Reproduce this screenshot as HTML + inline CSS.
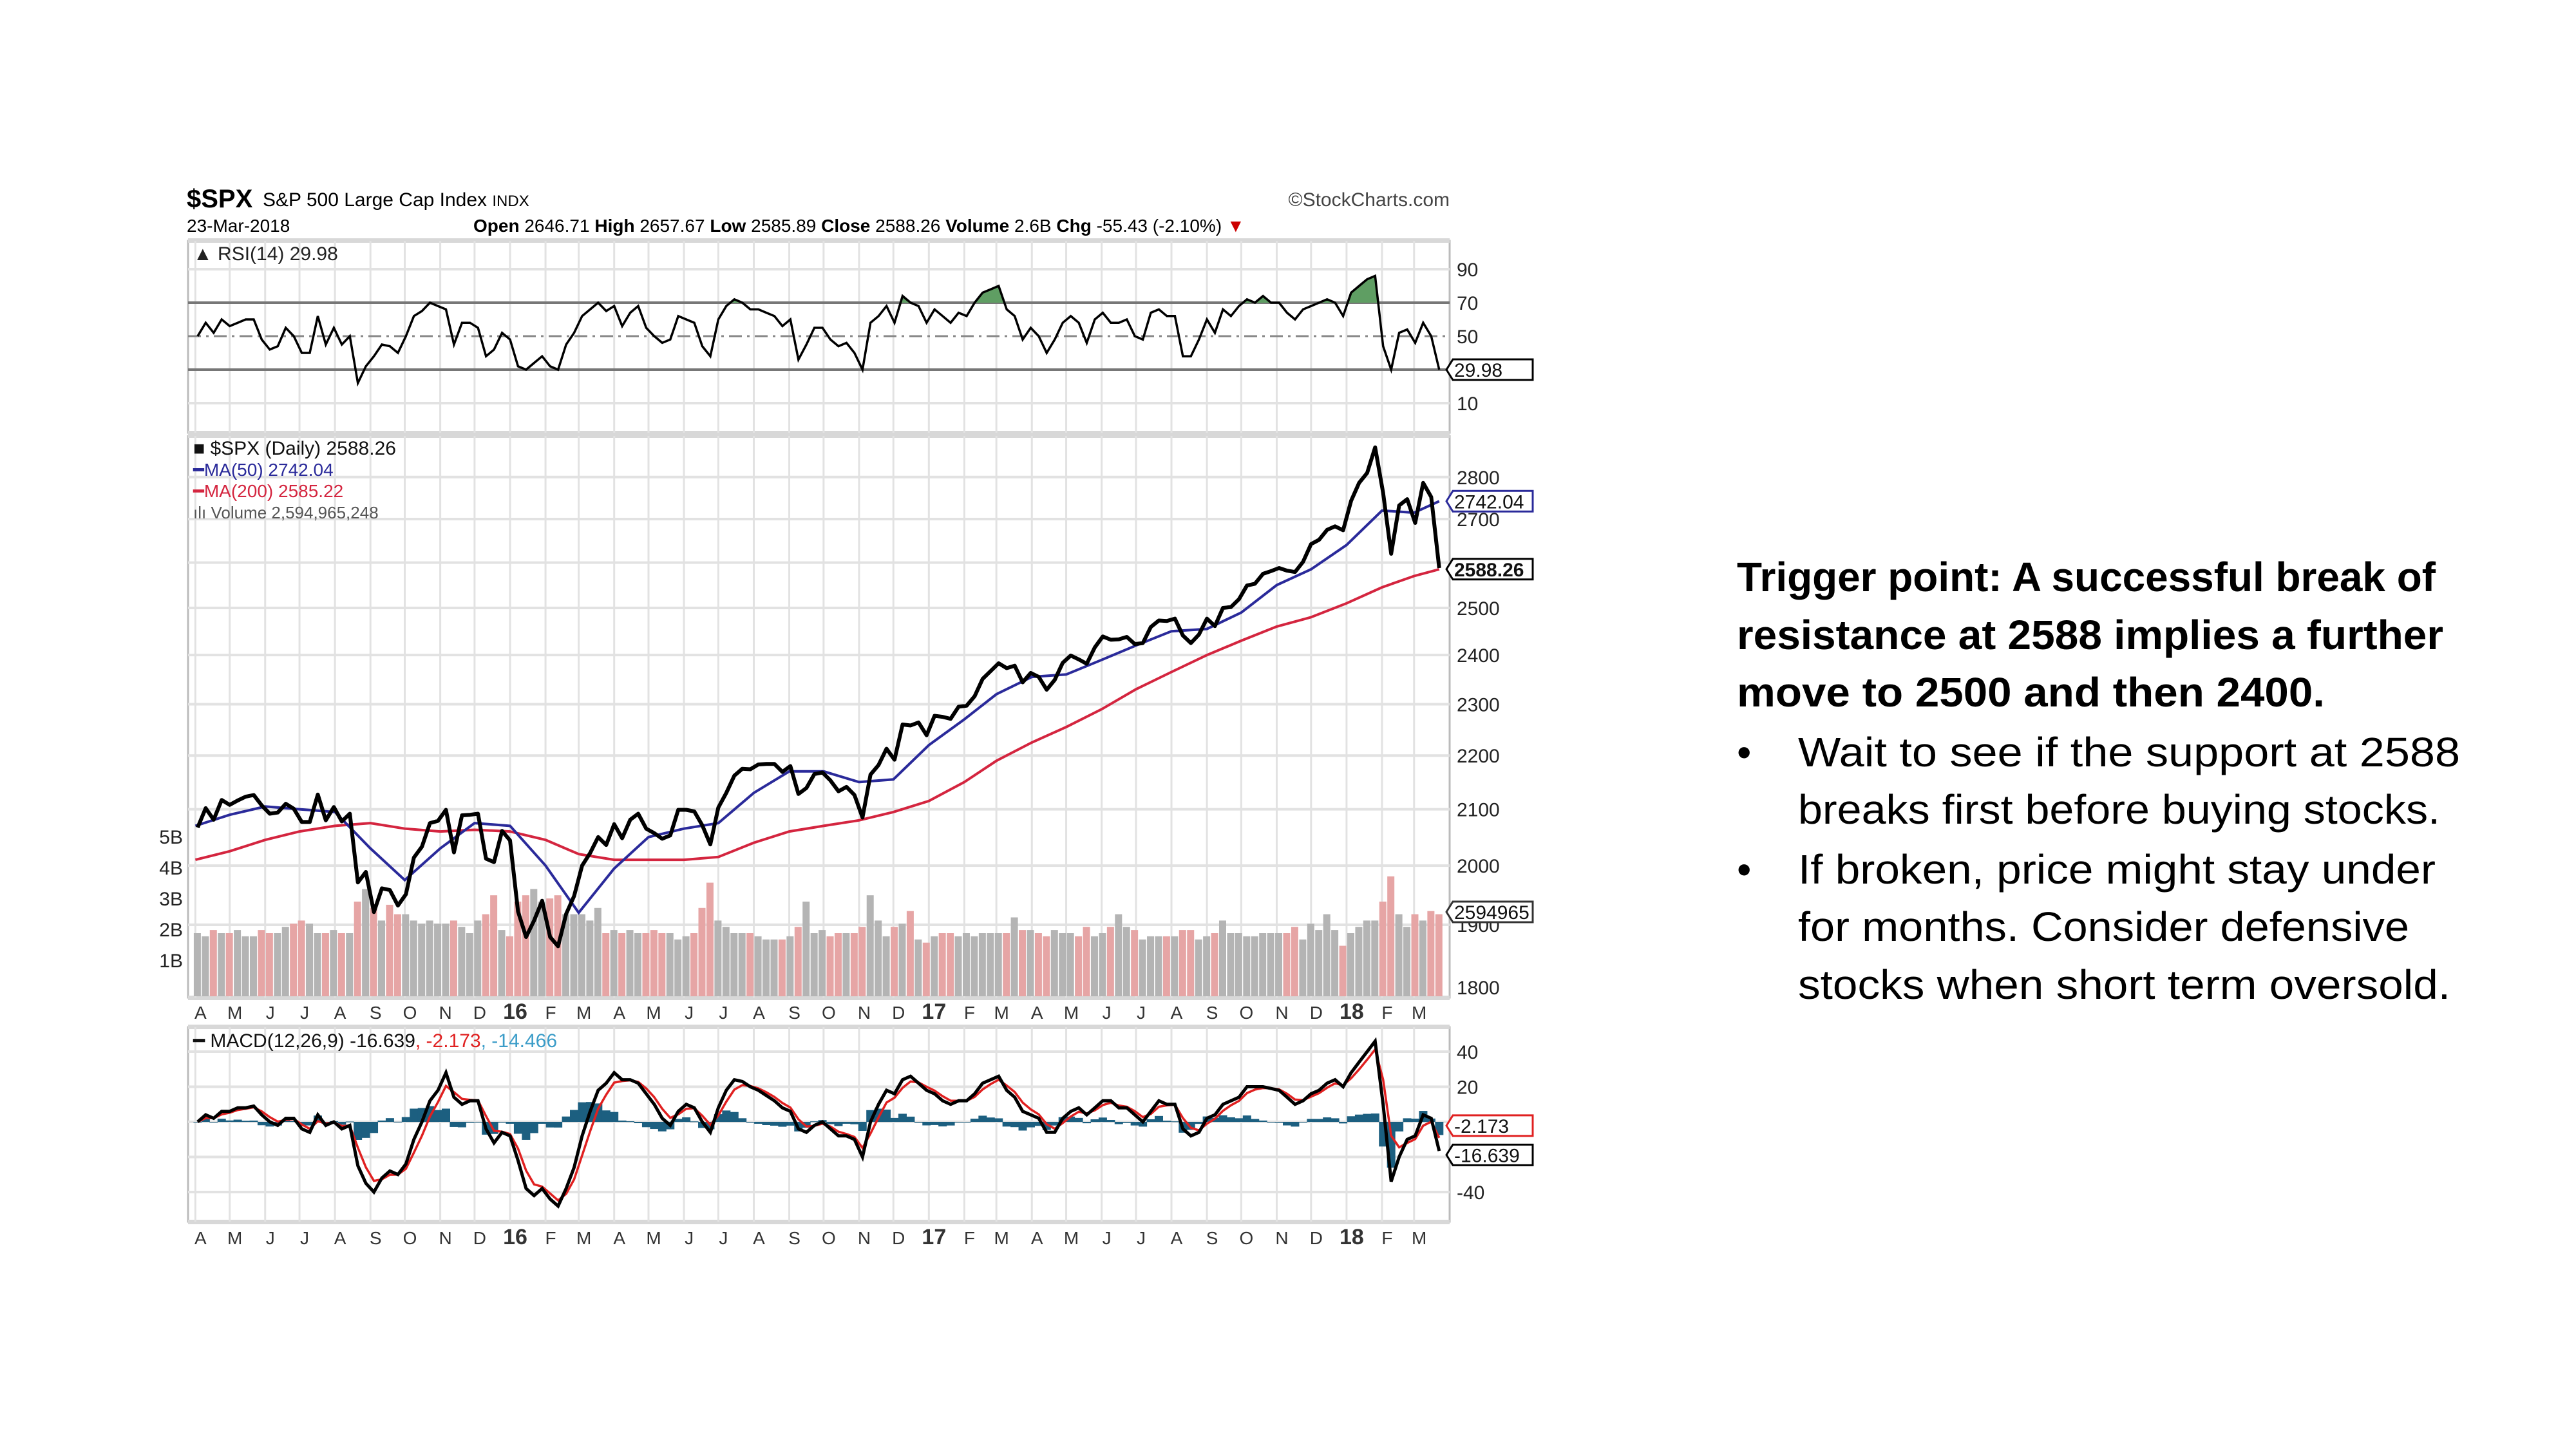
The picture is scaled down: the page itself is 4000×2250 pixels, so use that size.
<!DOCTYPE html>
<html><head><meta charset="utf-8"><title>SPX chart</title>
<style>
html,body{margin:0;padding:0;background:#fff;}
svg{display:block;font-family:"Liberation Sans",Arial,sans-serif;}
</style></head>
<body>
<svg id="chart" width="4000" height="2250" viewBox="0 0 4000 2250" xmlns="http://www.w3.org/2000/svg">
<rect x="0" y="0" width="4000" height="2250" fill="#fff"/>
<g id="grid"></g>
<g id="marks"></g>
<g id="labels"></g>

<g>
<text x="290" y="322" font-size="40" font-weight="bold" fill="#000">$SPX</text>
<text x="408" y="320" font-size="30" fill="#000">S&amp;P 500 Large Cap Index <tspan font-size="24">INDX</tspan></text>
<text x="2251" y="320" font-size="30" fill="#444" text-anchor="end">©StockCharts.com</text>
<text x="290" y="360" font-size="28" fill="#000">23-Mar-2018</text>
<text x="735" y="360" font-size="28" fill="#000"><tspan font-weight="bold">Open</tspan> 2646.71 <tspan font-weight="bold">High</tspan> 2657.67 <tspan font-weight="bold">Low</tspan> 2585.89 <tspan font-weight="bold">Close</tspan> 2588.26 <tspan font-weight="bold">Volume</tspan> 2.6B <tspan font-weight="bold">Chg</tspan> -55.43 (-2.10%) <tspan fill="#c00">▼</tspan></text>
</g>

<g font-size="64" fill="#000">
<text x="2697" y="918" font-weight="bold" textLength="1085" lengthAdjust="spacingAndGlyphs">Trigger point: A successful break of</text>
<text x="2697" y="1008" font-weight="bold" textLength="1097" lengthAdjust="spacingAndGlyphs">resistance at 2588 implies a further</text>
<text x="2697" y="1097" font-weight="bold" textLength="913" lengthAdjust="spacingAndGlyphs">move to 2500 and then 2400.</text>
<text x="2697" y="1190">•</text>
<text x="2792" y="1190" textLength="1028" lengthAdjust="spacingAndGlyphs">Wait to see if the support at 2588</text>
<text x="2792" y="1279" textLength="997" lengthAdjust="spacingAndGlyphs">breaks first before buying stocks.</text>
<text x="2697" y="1372">•</text>
<text x="2792" y="1372" textLength="990" lengthAdjust="spacingAndGlyphs">If broken, price might stay under</text>
<text x="2792" y="1461" textLength="949" lengthAdjust="spacingAndGlyphs">for months. Consider defensive</text>
<text x="2792" y="1551" textLength="1013" lengthAdjust="spacingAndGlyphs">stocks when short term oversold.</text>
</g>
</svg>
<script>
// ---- data (weekly, Fridays from 3-Apr-2015 to 23-Mar-2018) ----
const startDate = "2015-04-03";
const closes = [
2067,2102,2081,2117, 2108,2116,2123,2126,2107, 2092,2094,2110,2101, 2077,2077,2127,2080,2104, 2078,2092,1971,1989, 1921,1961,1958,1932, 1951,2014,2033,2075,2079, 2099,2023,2089,2090, 2092,2012,2006,2061,2044,
1922,1880,1907,1940, 1880,1865,1918,1948, 2000,2022,2050,2036,2073, 2048,2081,2092,2065, 2057,2047,2053,2099, 2099,2096,2071,2037, 2103,2130,2162,2175,2174, 2183,2184,2184,2169, 2180,2128,2139,2165,2168, 2153,2133,2141,2126, 2085,2164,2182,2213, 2192,2260,2258,2264,2239,
2277,2275,2271,2295, 2297,2316,2351,2367, 2383,2373,2378,2344,2363, 2355,2329,2349,2384, 2399,2391,2382,2416, 2439,2432,2433,2438,2423, 2425,2459,2473,2472, 2477,2441,2425,2443, 2477,2461,2500,2502,2519, 2549,2553,2575,2581, 2588,2582,2579,2602, 2642,2652,2675,2683,2674,
2743,2786,2810,2873, 2762,2620,2732,2747, 2691,2786,2752,2588];
const rsiValues = [
50,58,52,60, 56,58,60,60,48, 42,44,55,50, 40,40,62,45,55, 45,50,22,32, 38,45,44,40, 50,62,65,70,68, 66,45,58,58, 55,38,42,52,48,
32,30,34,38, 32,30,45,52, 62,66,70,65,68, 56,64,68,55, 50,46,48,62, 60,58,44,38, 60,68,72,70,66, 66,64,62,56, 60,36,45,55,55, 48,44,46,40, 30,58,62,68, 58,74,70,68,58,
66,62,58,64, 62,70,76,78, 80,66,62,48,55, 50,40,48,58, 62,58,46,60, 64,58,58,60,50, 48,64,66,62, 62,38,38,48, 60,52,66,62,68, 72,70,74,70, 70,64,60,66, 68,70,72,70,62,
76,80,84,86, 44,30,52,54, 46,58,50,30];
const macdValues = [
0,4,2,6, 6,8,8,9,4, 0,-2,2,2, -4,-6,4,-2,0, -4,-2,-25,-35, -40,-32,-28,-30, -24,-10,0,12,18, 28,14,10,12, 12,-4,-12,-6,-8,
-22,-38,-42,-38, -44,-48,-38,-26, -8,6,18,22,28, 24,24,22,16, 10,2,-2,6, 10,8,0,-6, 8,18,24,23,20, 18,15,12,8, 6,-4,-6,-2,0, -4,-8,-8,-10, -20,0,10,18, 16,24,26,22,18,
16,12,10,12, 12,16,22,24, 26,18,14,6,4, 2,-6,-6,2, 6,8,4,8, 12,12,8,8,4, 0,6,12,10, 10,-4,-8,-6, 2,4,10,12,14, 20,20,20,19, 18,14,10,12, 16,18,22,24,20,
28,34,40,46, 10,-34,-20,-10, -8,4,2,-16.6];
const volumeB = [
2.0,1.9,2.1,2.0, 2.0,2.1,1.9,1.9,2.1, 2.0,2.0,2.2,2.3, 2.4,2.3,2.0,2.0,2.1, 2.0,2.0,3.0,3.4, 2.8,2.4,2.9,2.6, 2.6,2.4,2.3,2.4,2.3, 2.3,2.4,2.2,2.0, 2.4,2.6,3.2,2.1,1.9,
3.0,3.2,3.4,3.0, 3.1,3.2,2.6,2.6, 2.6,2.4,2.8,2.0,2.1, 2.0,2.1,2.0,2.0, 2.1,2.0,2.0,1.8, 1.9,2.0,2.8,3.6, 2.4,2.2,2.0,2.0,2.0, 1.9,1.8,1.8,1.8, 1.9,2.2,3.0,2.0,2.1, 1.9,2.0,2.0,2.0, 2.2,3.2,2.4,1.9, 2.2,2.3,2.7,1.8,1.7,
1.9,2.0,2.0,1.9, 2.0,1.9,2.0,2.0, 2.0,2.0,2.5,2.1,2.1, 2.0,1.9,2.1,2.0, 2.0,1.9,2.2,1.9, 2.0,2.2,2.6,2.2,2.1, 1.8,1.9,1.9,1.9, 1.9,2.1,2.1,1.8, 1.9,2.0,2.4,2.0,2.0, 1.9,1.9,2.0,2.0, 2.0,2.0,2.2,1.8, 2.3,2.1,2.6,2.1,1.6,
2.0,2.2,2.4,2.4, 3.0,3.8,2.6,2.2, 2.6,2.4,2.7,2.6];
// moving averages read at month starts
const maDates = ["2015-04-01","2015-05-01","2015-06-01","2015-07-01","2015-08-01","2015-09-01","2015-10-01","2015-11-01","2015-12-01","2016-01-01","2016-02-01","2016-03-01","2016-04-01","2016-05-01","2016-06-01","2016-07-01","2016-08-01","2016-09-01","2016-10-01","2016-11-01","2016-12-01","2017-01-01","2017-02-01","2017-03-01","2017-04-01","2017-05-01","2017-06-01","2017-07-01","2017-08-01","2017-09-01","2017-10-01","2017-11-01","2017-12-01","2018-01-01","2018-02-01","2018-03-01","2018-03-23"];
const ma50 = [2070,2090,2105,2100,2095,2030,1975,2030,2075,2070,2000,1920,1995,2050,2065,2075,2130,2170,2170,2150,2155,2220,2270,2320,2355,2360,2390,2420,2450,2455,2490,2550,2585,2640,2720,2715,2742];
const ma200 = [2010,2025,2045,2060,2070,2075,2065,2060,2063,2060,2045,2020,2010,2010,2010,2015,2040,2060,2070,2080,2095,2115,2150,2190,2225,2255,2290,2330,2365,2400,2430,2460,2480,2510,2545,2570,2585];
const priceTicks = [2800,2700,2500,2400,2300,2200,2100,2000,1900,1800];
const rsiTicks = [90,70,50,10];
const macdTicks = [40,20,-40];
const volTicks = ["5B","4B","3B","2B","1B"];
const monthLabels = ["A","M","J","J","A","S","O","N","D","16","F","M","A","M","J","J","A","S","O","N","D","17","F","M","A","M","J","J","A","S","O","N","D","18","F","M"];

// ---- geometry ----
const L=292, R=2251;
const DAY=86400000, REF=Date.UTC(2016,0,1);
function xOfDate(ms){return 792+(ms-REF)/DAY*649/365.25;}
function weekDate(i){const d=new Date(startDate+"T00:00:00Z").getTime();return d+i*7*DAY;}
function xw(i){return xOfDate(weekDate(i));}
function yPrice(p){return 1533-Math.log(p/1800)*1793;}
function yRsi(v){return 626-(v-10)*2.6;}
function yMacd(m){return 1742-m*2.725;}
function yVol(v){return 1547-v*49;}
const NS="http://www.w3.org/2000/svg";
function el(tag,attrs,parent,text){const e=document.createElementNS(NS,tag);for(const k in attrs)e.setAttribute(k,attrs[k]);if(text!==undefined)e.textContent=text;parent.appendChild(e);return e;}
const grid=document.getElementById('grid'),marks=document.getElementById('marks'),labels=document.getElementById('labels');

// panels
const panels=[[374,672,'rsi-panel'],[677,1549,'price-panel'],[1595,1897,'macd-panel']];
panels.forEach(p=>{
  const r=el('rect',{x:L,y:p[0],width:R-L,height:p[1]-p[0],fill:'#fff',stroke:'#bbb','stroke-width':3},grid);
  
  
  el('rect',{x:L,y:p[0]-4,width:R-L,height:7,fill:'#d8d8d8'},grid);
  el('rect',{x:L,y:p[1]-3,width:R-L,height:7,fill:'#d8d8d8'},grid);
});
// month gridlines & labels
for(let k=0;k<monthLabels.length;k++){
  const y=2015+Math.floor((3+k)/12), m=(3+k)%12;
  const x=xOfDate(Date.UTC(y,m,1));
  panels.forEach(p=>el('line',{x1:x,x2:x,y1:p[0],y2:p[1],stroke:'#e2e2e2','stroke-width':3},grid));
  const big=monthLabels[k].length>1;
  [1582,1932].forEach((yy,j)=>{
    const t=el('text',{x:x+8,y:yy,'font-size':big?34:28,'font-weight':big?'bold':'normal','text-anchor':'middle',fill:'#333'},labels,monthLabels[k]);
    
    
  });
}
// horizontal gridlines
[90,70,50,30,10].forEach(v=>{
  const y=yRsi(v);
  if(v===70||v===30) el('line',{x1:L,x2:R,y1:y,y2:y,stroke:'#777','stroke-width':4},grid);
  else if(v===50) el('line',{x1:L,x2:R,y1:y,y2:y,stroke:'#888','stroke-width':3,'stroke-dasharray':'20 8 4 8'},grid);
  else el('line',{x1:L,x2:R,y1:y,y2:y,stroke:'#e2e2e2','stroke-width':4},grid);
});
[2800,2700,2600,2500,2400,2300,2200,2100,2000,1900].forEach(p=>{const y=yPrice(p);el('line',{x1:L,x2:R,y1:y,y2:y,stroke:'#e2e2e2','stroke-width':4},grid);});
[40,20,0,-20,-40].forEach(m=>{const y=yMacd(m);el('line',{x1:L,x2:R,y1:y,y2:y,stroke:'#e2e2e2','stroke-width':4},grid);});

// volume bars
volumeB.forEach((v,i)=>{
  const x=xw(i), down=i>0&&closes[i]<closes[i-1];
  const b=el('rect',{x:x-6,y:yVol(v),width:11,height:1547-yVol(v),fill:down?'#e6a5a5':'#b4b4b4'},marks);
  
  
});
// MAs
function maPath(arr){return arr.map((v,i)=>(i?'L':'M')+xOfDate(Date.parse(maDates[i]+"T00:00:00Z")).toFixed(1)+','+yPrice(v).toFixed(1)).join('');}
const m200=el('path',{d:maPath(ma200),fill:'none',stroke:'#d4253f','stroke-width':4},marks);


const m50=el('path',{d:maPath(ma50),fill:'none',stroke:'#2a2a9a','stroke-width':4},marks);


// price line
const pd=closes.map((c,i)=>(i?'L':'M')+xw(i).toFixed(1)+','+yPrice(c).toFixed(1)).join('');
const pl=el('path',{d:pd,fill:'none',stroke:'#000','stroke-width':6,'stroke-linejoin':'round'},marks);



// RSI
const defs=el('defs',{},marks);
const cp=el('clipPath',{id:'ob'},defs);
el('rect',{x:L,y:374,width:R-L,height:yRsi(70)-374},cp);
const rd=rsiValues.map((v,i)=>(i?'L':'M')+xw(i).toFixed(1)+','+yRsi(v).toFixed(1)).join('');
el('path',{d:rd+'L'+xw(rsiValues.length-1)+','+yRsi(70)+'L'+xw(0)+','+yRsi(70)+'Z',fill:'#5f9e63','clip-path':'url(#ob)'},marks);
const rl=el('path',{d:rd,fill:'none',stroke:'#000','stroke-width':3.5},marks);



// MACD
const alpha=0.55;let s=macdValues[0];const signal=macdValues.map(v=>(s=s+alpha*(v-s)));
macdValues.forEach((v,i)=>{
  const h=v-signal[i],y0=yMacd(0),y1=yMacd(h);
  const b=el('rect',{x:xw(i)-6.5,y:Math.min(y0,y1),width:13,height:Math.max(1,Math.abs(y1-y0)),fill:'#1c5f80'},marks);
  
  
});
const sl=el('path',{d:signal.map((v,i)=>(i?'L':'M')+xw(i).toFixed(1)+','+yMacd(v).toFixed(1)).join(''),fill:'none',stroke:'#e02020','stroke-width':3.5},marks);


const ml=el('path',{d:macdValues.map((v,i)=>(i?'L':'M')+xw(i).toFixed(1)+','+yMacd(v).toFixed(1)).join(''),fill:'none',stroke:'#000','stroke-width':5},marks);



// axis labels
function ax(txt,x,y,name,anchor){const t=el('text',{x:x,y:y,'font-size':30,fill:'#222','text-anchor':anchor||'start'},labels,txt);return t;}
rsiTicks.forEach(v=>ax(String(v),2262,yRsi(v)+11,'rsi-y-tick'));
priceTicks.forEach(v=>ax(String(v),2262,yPrice(v)+11,'price-y-tick'));
macdTicks.forEach(v=>ax(String(v),2262,yMacd(v)+11,'macd-y-tick'));
volTicks.forEach((v,i)=>ax(v,284,1300+i*48+10,'volume-y-tick','end'));
// value tags
function tag(txt,y,color,bold,name){const g=el('g',{},labels);
  el('path',{d:`M2246,${y} L2256,${y-16} L2380,${y-16} L2380,${y+16} L2256,${y+16} Z`,fill:'#fff',stroke:color,'stroke-width':3},g);
  el('text',{x:2258,y:y+11,'font-size':30,'font-weight':bold?'bold':'normal',fill:'#111'},g,txt);}
tag('29.98',yRsi(29.98),'#000',false,'rsi-value-tag');
tag('2742.04',yPrice(2742.04),'#2a2a9a',false,'ma50-value-tag');
tag('2588.26',yPrice(2588.26)+2,'#000',true,'close-value-tag');
tag('2594965',1416,'#333',false,'volume-value-tag');
tag('-2.173',yMacd(-2.173),'#e02020',false,'signal-value-tag');
tag('-16.639',yMacd(-16.639)+6,'#000',false,'macd-value-tag');
// legends
function lg(parts,x,y,size,name){const t=el('text',{x:x,y:y,'font-size':size},labels);parts.forEach(p=>{const ts=el('tspan',{fill:p[1]},t,p[0]);});}
lg([['▲ RSI(14) 29.98','#222']],300,404,30,'rsi-legend');
lg([['■ $SPX (Daily) 2588.26','#111']],300,706,30,'price-legend');
lg([['━MA(50) 2742.04','#2a2a9a']],300,739,28,'ma50-legend');
lg([['━MA(200) 2585.22','#d4253f']],300,772,28,'ma200-legend');
lg([['ılı Volume 2,594,965,248','#555']],300,805,26,'volume-legend');
lg([['━ MACD(12,26,9) -16.639','#111'],[', -2.173','#e02020'],[', -14.466','#3a9cc8']],300,1626,30,'macd-legend');
</script>
</body></html>
